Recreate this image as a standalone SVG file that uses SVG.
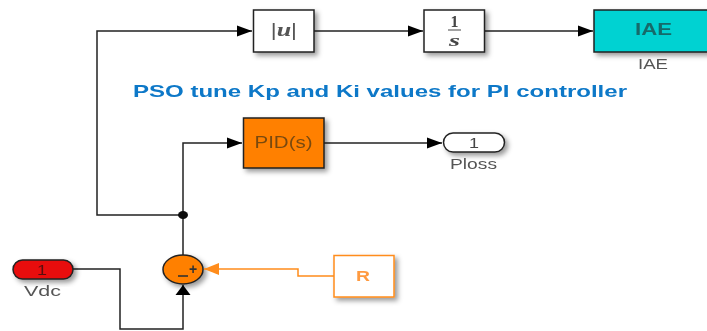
<svg xmlns="http://www.w3.org/2000/svg" width="707" height="331" viewBox="0 0 707 331">
<defs>
<filter id="sh" x="-20%" y="-20%" width="150%" height="160%"><feDropShadow dx="3" dy="3" stdDeviation="2.5" flood-color="#000" flood-opacity="0.4"/></filter>
<filter id="soft" x="-2%" y="-2%" width="104%" height="104%"><feGaussianBlur stdDeviation="0.55"/></filter>
<marker id="a" markerUnits="userSpaceOnUse" markerWidth="16" markerHeight="12" refX="15" refY="6" orient="auto"><path d="M0 0.500L15 6L0 11.500Z" fill="#000"/></marker>
<marker id="s" markerUnits="userSpaceOnUse" markerWidth="11" markerHeight="16" refX="10" refY="8" orient="auto"><path d="M0 0.500L10 8L0 15.500Z" fill="#000"/></marker>
<marker id="o" markerUnits="userSpaceOnUse" markerWidth="16" markerHeight="12" refX="15" refY="6" orient="auto"><path d="M0 0L15 6L0 12Z" fill="#ff8c1a"/></marker>
</defs>
<style>
.w{fill:none;stroke:#222;stroke-width:1.5}
.b{stroke:#222;stroke-width:1.5;filter:url(#sh)}
text{font-family:"Liberation Sans",Arial,sans-serif;text-anchor:middle}
.l{font-size:15px;fill:#555}
.i{font-size:14px;fill:#444}
</style>
<rect width="707" height="331" fill="#fff"/>
<g filter="url(#soft)">
<g id="sum"><ellipse class="b" cx="183" cy="269.500" rx="20" ry="14.500" fill="#ff8000"/><text x="193" y="274" font-size="14" font-weight="bold" fill="#333">+</text><path d="M178 276H188" stroke="#333" stroke-width="1.600"/></g>
<g id="connectors">
<path class="w" marker-end="url(#a)" d="M183 215H97V31H252"/>
<path class="w" marker-end="url(#a)" d="M314 31H423"/>
<path class="w" marker-end="url(#a)" d="M485 31H593"/>
<path class="w" marker-end="url(#a)" d="M183 255V143H242"/>
<path class="w" marker-end="url(#a)" d="M324 143H442"/>
<path class="w" marker-end="url(#s)" d="M73 269H120V329H183V285"/>
<path fill="none" stroke="#ff8c1a" stroke-width="1.5" marker-end="url(#o)" d="M334 276H298V269H204"/>
<ellipse cx="183" cy="215" rx="5" ry="4" fill="#111"/>
</g>
<g id="abs"><rect class="b" x="253.500" y="10" width="60.500" height="42" fill="#fff"/><text x="284" y="36" font-size="18" style="font-family:'Liberation Serif'" fill="#555" font-style="italic" font-weight="bold" textLength="26" lengthAdjust="spacingAndGlyphs">|u|</text></g>
<g id="integrator"><rect class="b" x="424" y="10" width="60.500" height="42" fill="#fff"/><text x="454.500" y="27" style="font-family:'Liberation Serif'" font-size="16" font-weight="bold" fill="#444">1</text><path d="M448 30H461" stroke="#666" stroke-width="1.200"/><text x="454.500" y="46" style="font-family:'Liberation Serif'" font-size="16" font-weight="bold" font-style="italic" fill="#444" textLength="11" lengthAdjust="spacingAndGlyphs">s</text></g>
<g id="iae"><rect class="b" x="594" y="10" width="120" height="42" fill="#00d2d2"/><text x="653.500" y="35" font-size="16" font-weight="bold" fill="#176a6a" textLength="37" lengthAdjust="spacingAndGlyphs">IAE</text><text class="l" x="653" y="69" textLength="30" lengthAdjust="spacingAndGlyphs">IAE</text></g>
<text x="380" y="97" font-size="17" font-weight="bold" fill="#0b78c8" textLength="494" lengthAdjust="spacingAndGlyphs">PSO tune Kp and Ki values for PI controller</text>
<g id="pid"><rect class="b" x="243.500" y="118" width="80.500" height="50" fill="#ff8000"/><text x="283.500" y="148" font-size="16" fill="#7a4a10" textLength="58" lengthAdjust="spacingAndGlyphs">PID(s)</text></g>
<g id="ploss"><rect class="b" x="443.500" y="133" width="61" height="19" rx="9.500" fill="#fff"/><text class="i" x="474" y="148" textLength="10" lengthAdjust="spacingAndGlyphs">1</text><text class="l" x="473.500" y="169" textLength="47" lengthAdjust="spacingAndGlyphs">Ploss</text></g>
<g id="vdc"><rect class="b" x="13" y="260" width="60" height="19" rx="9.500" fill="#e80808"/><text x="42" y="275" font-size="14" fill="#5a1010" textLength="10" lengthAdjust="spacingAndGlyphs">1</text><text class="l" x="42.500" y="296" textLength="37" lengthAdjust="spacingAndGlyphs">Vdc</text></g>
<g id="r"><rect x="334" y="255.500" width="60" height="41.500" fill="#fff" stroke="#ff8c1a" stroke-width="1.500" filter="url(#sh)"/><text x="363" y="281" font-size="15" font-weight="bold" fill="#ff9a40" textLength="14" lengthAdjust="spacingAndGlyphs">R</text></g>
</g>
</svg>
